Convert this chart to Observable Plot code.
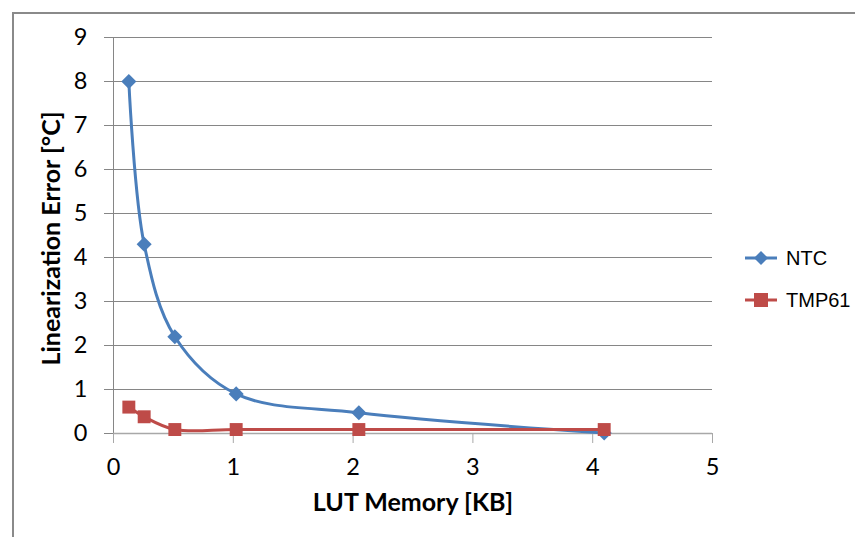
<!DOCTYPE html>
<html>
<head>
<meta charset="utf-8">
<script src="https://cdn.jsdelivr.net/npm/d3@7"></script>
<script src="https://cdn.jsdelivr.net/npm/@observablehq/plot@0.6"></script>
<style>
  html, body { margin: 0; padding: 0; background: #fff; overflow: hidden; width: 855px; height: 537px; }
  #wrap { position: relative; width: 855px; height: 537px; }
  #border { position: absolute; left: 12px; top: 12px; width: 900px; height: 600px;
            border-left: 2px solid #8a8a8a; border-top: 2px solid #8a8a8a; box-sizing: border-box; }
  #chart { position: absolute; left: 0; top: 0; }
  #legend { position: absolute; left: 744px; top: 244px; font-family: "Liberation Sans", Arial, sans-serif;
            font-size: 20px; color: #000; }
  .item { display: flex; align-items: center; height: 28px; margin-bottom: 14px; }
  .item svg { margin-right: 8px; }
</style>
</head>
<body>
<div id="wrap">
  <div id="border"></div>
  <div id="chart"></div>
  <div id="legend"></div>
</div>
<script>
// ---- data ----
const lutMemoryKB = [0.128, 0.256, 0.512, 1.024, 2.048, 4.096];
const ntcError    = [8, 4.3, 2.2, 0.9, 0.47, 0.01];
const tmp61Error  = [0.6, 0.38, 0.09, 0.09, 0.09, 0.09];
const seriesNames = ["NTC", "TMP61"];
const seriesColors = ["#4a7ebb", "#be4b48"];
const xTicks = [0, 1, 2, 3, 4, 5];
const yTicks = [0, 1, 2, 3, 4, 5, 6, 7, 8, 9];
const xTitle = "LUT Memory [KB]";
const yTitle = "Linearization Error [\u00B0C]";

const ntc = lutMemoryKB.map((x, i) => ({x, y: ntcError[i]}));
const tmp = lutMemoryKB.map((x, i) => ({x, y: tmp61Error[i]}));

const font = "Lato, 'Open Sans', sans-serif";
const chart = Plot.plot({
  width: 855,
  height: 537,
  marginLeft: 113,
  marginRight: 143,
  marginTop: 37,
  marginBottom: 104,
  x: {domain: [0, 5]},
  y: {domain: [0, 9]},
  style: {fontFamily: font, fontSize: "23.5px", color: "#000", background: "transparent", overflow: "visible"},
  marks: [
    Plot.ruleY(yTicks.filter(d => d > 0), {stroke: "#868686", strokeWidth: 1}),
    Plot.axisY({ticks: yTicks, tickSize: 9, tickPadding: 17, stroke: "#868686", strokeOpacity: 1, label: null, tickFormat: d => d, fill: "#000"}),
    Plot.ruleX([0], {stroke: "#868686", strokeWidth: 1}),
    Plot.ruleY([0], {stroke: "#a8a8a8", strokeWidth: 1.5}),
    Plot.axisX({ticks: xTicks, tickSize: 10, tickPadding: 15, stroke: "#a8a8a8", strokeOpacity: 1, label: null, tickFormat: d => d, fill: "#000"}),
    Plot.text([yTitle], {frameAnchor: "left", textAnchor: "middle", dx: -62, dy: 3, rotate: -90, fontWeight: "bold", fontSize: 25, fill: "#000"}),
    Plot.text([xTitle], {frameAnchor: "bottom", dy: 77, fontWeight: "bold", fontSize: 25, fill: "#000"}),
    Plot.line(ntc, {x: "x", y: "y", stroke: seriesColors[0], strokeWidth: 3, curve: "catmull-rom"}),
    Plot.dot(ntc, {x: "x", y: "y", symbol: "diamond2", r: 6.8, fill: seriesColors[0], stroke: null}),
    Plot.line(tmp, {x: "x", y: "y", stroke: seriesColors[1], strokeWidth: 3, curve: "catmull-rom"}),
    Plot.dot(tmp, {x: "x", y: "y", symbol: "square", r: 7.3, fill: seriesColors[1], stroke: null})
  ]
});
document.getElementById("chart").appendChild(chart);

// legend
const legend = document.getElementById("legend");
seriesNames.forEach((name, i) => {
  const item = document.createElement("div");
  item.className = "item";
  const sym = i === 0
    ? `<polygon points="17,7 24,14 17,21 10,14" fill="${seriesColors[i]}"/>`
    : `<rect x="10" y="7" width="14" height="14" fill="${seriesColors[i]}"/>`;
  item.innerHTML = `<svg width="34" height="28"><line x1="1" x2="33" y1="14" y2="14" stroke="${seriesColors[i]}" stroke-width="3"/>${sym}</svg><span>${name}</span>`;
  legend.appendChild(item);
});
</script>
</body>
</html>
